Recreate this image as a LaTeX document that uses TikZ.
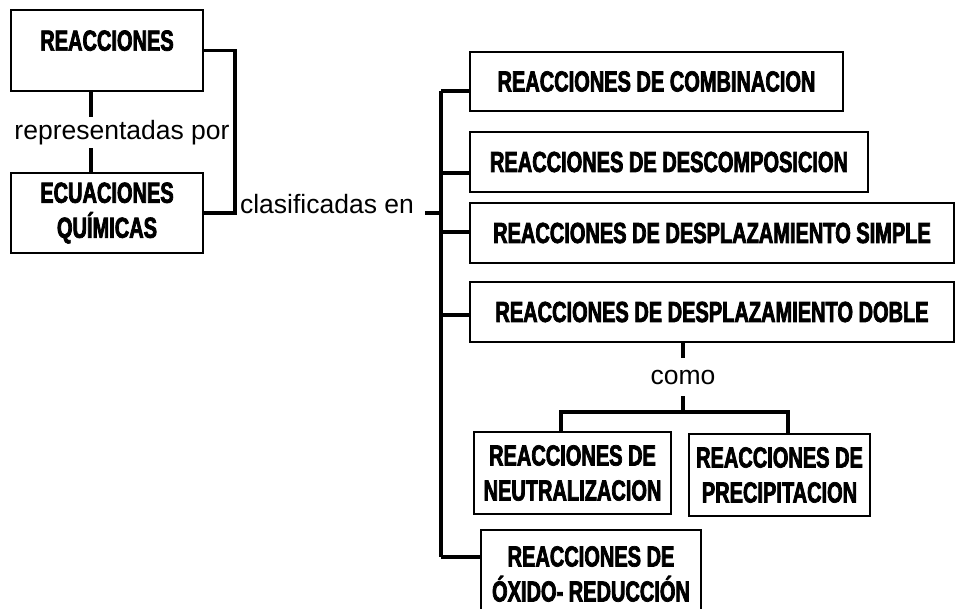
\documentclass[tikz,border=0pt]{standalone}
\usepackage{fontspec}
\setmainfont{Liberation Sans}
\newfontfamily\impactfont[FakeStretch=0.69,FakeBold=2.5]{Liberation Sans}

\tikzset{
  box/.style={draw, line width=1.6pt, inner sep=0pt, align=center,
    font=\impactfont\bfseries\fontsize{29}{35}\selectfont},
  link/.style={line width=3.5pt},
  lbl/.style={inner sep=3pt, font=\fontsize{26.5}{32}\selectfont}
}

\begin{document}
\begin{tikzpicture}[x=1pt, y=-1pt]
  \useasboundingbox (0,0) rectangle (955,608);
  % left column
  \node[box, minimum width=192, minimum height=81, text depth=20pt] (reac) at (107,50.5) {REACCIONES};
  \node[box, minimum width=192, minimum height=80] (ecua) at (107,213) {ECUACIONES\\QUÍMICAS};
  \node[lbl] (repr) at (122,132.5) {representadas por};
  \node[lbl] (clas) at (327,204) {clasificadas en};
  \draw[link] ([xshift=-16pt]reac.south) -- ([xshift=-16pt]reac.south |- repr.north);
  \draw[link] ([xshift=-16pt]ecua.north) -- ([xshift=-16pt]ecua.north |- repr.south);
  \draw[link] (reac.east) -- ++(31,0) |- (ecua.east);

  % classes
  \node[box, minimum width=373, minimum height=59] (comb) at (656.5,81.5) {REACCIONES DE COMBINACION};
  \node[box, minimum width=398, minimum height=60] (desc) at (669,162) {REACCIONES DE DESCOMPOSICION};
  \node[box, minimum width=484, minimum height=60] (simp) at (712,233) {REACCIONES DE DESPLAZAMIENTO SIMPLE};
  \node[box, minimum width=484, minimum height=60] (dobl) at (712,312) {REACCIONES DE DESPLAZAMIENTO DOBLE};
  \node[box, minimum width=220, minimum height=88] (oxid) at (591,574) {REACCIONES DE\\ÓXIDO- REDUCCIÓN};

  % trunk
  \coordinate (tmid) at (441,213);
  \coordinate (b1) at (441,91);
  \coordinate (b2) at (441,173);
  \coordinate (b3) at (441,232);
  \coordinate (b4) at (441,315);
  \coordinate (b5) at (441,557);
  \draw[link] (tmid) -- ++(-16,0);
  \draw[link] (b1) -- (b5);
  \draw[link] (b1) -- (b1 -| comb.west);
  \draw[link] (b2) -- (b2 -| desc.west);
  \draw[link] (b3) -- (b3 -| simp.west);
  \draw[link] (b4) -- (b4 -| dobl.west);
  \draw[link] (b5) -- (b5 -| oxid.west);

  % double displacement
  \node[lbl, inner sep=12pt] (como) at (683,377) {como};
  \node[box, minimum width=197, minimum height=82] (neut) at (572.5,473) {REACCIONES DE\\NEUTRALIZACION};
  \node[box, minimum width=181, minimum height=82] (prec) at (779.5,475) {REACCIONES DE\\PRECIPITACION};
  \coordinate (cj) at (683,412);
  \coordinate (cl) at (561,412);
  \coordinate (cr) at (788,412);
  \draw[link] (dobl.south -| como.north) -- (como.north);
  \draw[link] (como.south) -- (cj);
  \draw[link] (cl |- neut.north) -- (cl) -- (cr) -- (cr |- prec.north);
\end{tikzpicture}
\end{document}
